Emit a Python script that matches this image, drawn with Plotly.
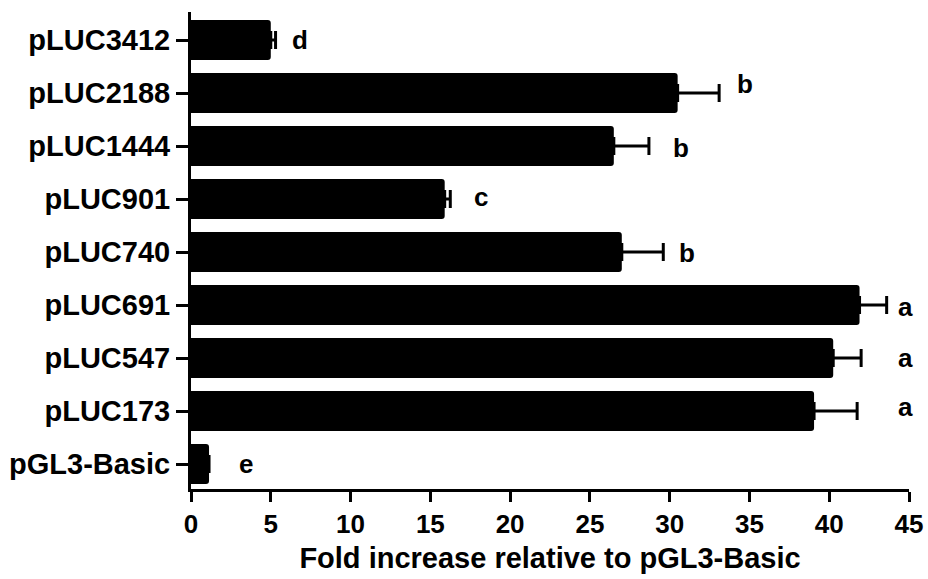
import plotly.graph_objects as go

categories = ["pGL3-Basic", "pLUC173", "pLUC547", "pLUC691", "pLUC740",
              "pLUC901", "pLUC1444", "pLUC2188", "pLUC3412"]
values = [1.13, 39.05, 40.25, 41.9, 27.0, 15.9, 26.5, 30.5, 5.0]
errors = [0.0, 2.7, 1.75, 1.7, 2.6, 0.35, 2.2, 2.6, 0.3]
letters = ["e", "a", "a", "a", "b", "c", "b", "b", "d"]
letter_x = [3.45, 44.8, 44.8, 44.8, 31.1, 18.2, 30.7, 34.7, 6.8]
letter_yshift = [0, 4, 0, -2, -1, 2, -2, 9, 0]
x_ticks = [0, 5, 10, 15, 20, 25, 30, 35, 40, 45]

FONT = "Liberation Sans, Arial, sans-serif"

fig = go.Figure()
fig.add_trace(go.Bar(
    x=values, y=categories, orientation="h",
    marker=dict(color="black", line=dict(width=0), cornerradius=3),
    error_x=dict(type="data", array=errors, arrayminus=[0] * len(errors),
                 symmetric=False, color="black", thickness=3, width=9),
    width=0.755,
))

for c, t, lx, ys in zip(categories, letters, letter_x, letter_yshift):
    fig.add_annotation(x=lx, y=c, text="<b>%s</b>" % t, showarrow=False,
                       yshift=ys, font=dict(family=FONT, size=26, color="black"))

fig.update_layout(
    width=928, height=579,
    margin=dict(l=191, r=19, t=12, b=90),
    paper_bgcolor="white", plot_bgcolor="white",
    showlegend=False,
    bargap=0.245,
    font=dict(family=FONT, color="black"),
)
fig.update_xaxes(
    range=[0, 45], tickvals=x_ticks, ticktext=["<b>%d</b>" % v for v in x_ticks],
    showline=True, linecolor="black", linewidth=3, automargin=False,
    ticks="outside", ticklen=10, tickwidth=3, tickcolor="black",
    showgrid=False, zeroline=False,
    tickfont=dict(family=FONT, size=26, color="black"),
    title=dict(text="<b>Fold increase relative to pGL3-Basic</b>",
               font=dict(family=FONT, size=29, color="black"), standoff=10),
)
fig.update_yaxes(
    range=[-0.47, 8.53], categoryorder="array", categoryarray=categories,
    tickvals=categories, ticktext=["<b>%s</b>" % c for c in categories],
    showline=True, linecolor="black", linewidth=3, automargin=False,
    ticks="outside", ticklen=12, tickwidth=3, tickcolor="black",
    showgrid=False, zeroline=False,
    tickfont=dict(family=FONT, size=29, color="black"),
)

fig.write_html("out.html", config={"displayModeBar": False},
               post_script="document.body.style.margin='0';document.body.style.padding='0';")
